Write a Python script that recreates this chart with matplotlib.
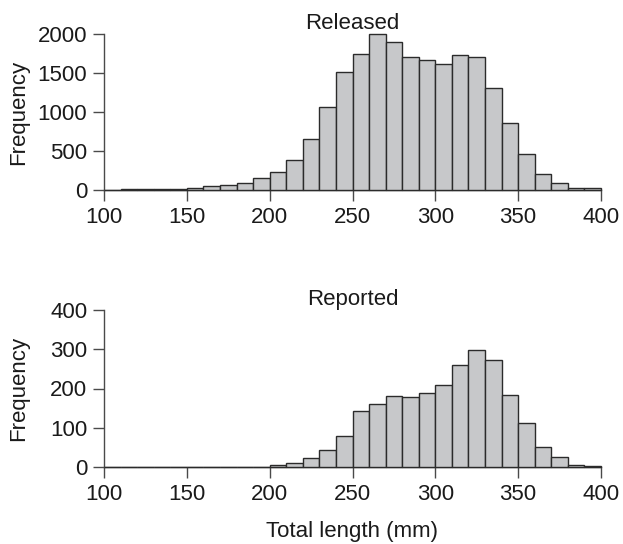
import numpy as np
import matplotlib
matplotlib.use('Agg')
import matplotlib.pyplot as plt

plt.rcParams['font.family'] = ['Liberation Sans', 'DejaVu Sans']

# 10 mm length classes, 100-400 mm
bin_edges = list(range(100, 410, 10))

released = [3, 8, 9, 9, 10, 20, 50, 65, 95, 160,
            225, 390, 660, 1060, 1510, 1750, 1995, 1895, 1710, 1662,
            1615, 1726, 1700, 1303, 859, 461, 205, 94, 22, 22]

reported = [0, 0, 0, 0, 0, 0, 0, 0, 0, 1,
            4, 11, 24, 43, 78, 142, 160, 182, 179, 189,
            209, 260, 297, 272, 184, 112, 51, 26, 4, 2]

x_ticks = [100, 150, 200, 250, 300, 350, 400]

fill_col = '#c7c8ca'
edge_col = '#2b2b2b'
axis_col = '#4a4a4a'
fs = 16

fig = plt.figure(figsize=(6.23, 5.44), dpi=100)
ax1 = fig.add_axes([104/623, 1 - 190/544, 497/623, 156/544])
ax2 = fig.add_axes([104/623, 1 - 467/544, 497/623, 157/544])

def draw_hist(ax, counts, title, ymax, yticks):
    left = bin_edges[:-1]
    ax.bar(left, counts, width=10, align='edge', color=fill_col,
           edgecolor=edge_col, linewidth=1.0, clip_on=False, zorder=3)
    ax.set_xlim(100, 400)
    ax.set_ylim(0, ymax)
    ax.set_xticks(x_ticks)
    ax.set_yticks(yticks)
    for s in ['top', 'right']:
        ax.spines[s].set_visible(False)
    for s in ['left', 'bottom']:
        ax.spines[s].set_color(axis_col)
        ax.spines[s].set_linewidth(1.0)
    ax.tick_params(axis='both', length=8, width=1.0, color=axis_col,
                   labelsize=fs, labelcolor='#1a1a1a', pad=4)
    ax.set_ylabel('Frequency', fontsize=fs, color='#1a1a1a')
    ax.yaxis.set_label_coords(-0.151, 0.5)
    ax.set_title(title, fontsize=fs, color='#1a1a1a', pad=3)

draw_hist(ax1, released, 'Released', 2000, [0, 500, 1000, 1500, 2000])
draw_hist(ax2, reported, 'Reported', 400, [0, 100, 200, 300, 400])
ax2.set_xlabel('Total length (mm)', fontsize=fs, color='#1a1a1a', labelpad=12)

fig.savefig('out.png', dpi=100)
